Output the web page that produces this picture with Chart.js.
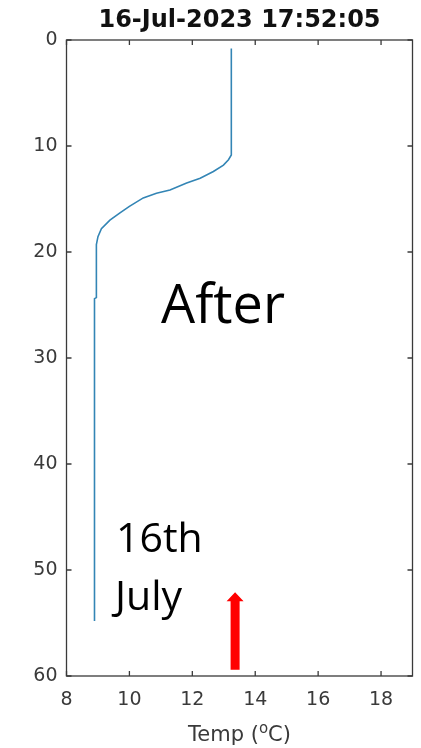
<!DOCTYPE html>
<html>
<head>
<meta charset="utf-8">
<script src="https://cdn.jsdelivr.net/npm/chart.js@4/dist/chart.umd.min.js"></script>
<style>
  html, body { margin: 0; padding: 0; background: #fff; }
  canvas { display: block; }
</style>
</head>
<body>
<canvas id="c" width="421" height="748"></canvas>
<script>
// Temperature profile (depth in m, temperature in °C)
const depth = [0.8, 10.85, 11.3, 11.8, 12.4, 13.05, 13.5, 14.15, 14.46, 14.9, 15.7, 16.3, 17.0, 17.8, 18.55, 19.3, 24.3, 24.4, 54.8];
const temperature = [13.24, 13.24, 13.15, 12.99, 12.67, 12.25, 11.82, 11.29, 10.86, 10.44, 10.0, 9.7, 9.38, 9.11, 9.0, 8.95, 8.95, 8.89, 8.89];

const xTicks = [8, 10, 12, 14, 16, 18];
const yTicks = [0, 10, 20, 30, 40, 50, 60];

const titleText = '16-Jul-2023 17:52:05';
const notes = ['After', '16th', 'July'];

// Red marker arrow: temperature position, from depth to depth
const arrowTemp = [13.36];
const arrowFromDepth = [59.4];
const arrowToDepth = [52.1];

const AXIS_COLOR = '#3a3a3a';
const TICK_FONT = 'DejaVu Sans';

const decorations = {
  id: 'decorations',
  afterDraw(chart) {
    const ctx = chart.ctx;
    const a = chart.chartArea;
    const xs = chart.scales.x, ys = chart.scales.y;
    ctx.save();

    // box around plot
    ctx.strokeStyle = AXIS_COLOR;
    ctx.lineWidth = 1.3;
    ctx.strokeRect(a.left, a.top, a.right - a.left, a.bottom - a.top);

    // inward tick marks on all four sides
    const tl = 5;
    ctx.beginPath();
    xTicks.forEach(v => {
      const px = xs.getPixelForValue(v);
      ctx.moveTo(px, a.bottom); ctx.lineTo(px, a.bottom - tl);
      ctx.moveTo(px, a.top); ctx.lineTo(px, a.top + tl);
    });
    yTicks.forEach(v => {
      const py = ys.getPixelForValue(v);
      ctx.moveTo(a.left, py); ctx.lineTo(a.left + tl, py);
      ctx.moveTo(a.right, py); ctx.lineTo(a.right - tl, py);
    });
    ctx.stroke();

    // title
    ctx.fillStyle = '#111';
    ctx.font = 'bold 24px "DejaVu Sans"';
    ctx.textAlign = 'center';
    ctx.textBaseline = 'alphabetic';
    ctx.fillText(titleText, (a.left + a.right) / 2, 27);

    // x axis title with superscript o
    ctx.fillStyle = AXIS_COLOR;
    ctx.textAlign = 'left';
    const main = '21px "DejaVu Sans"', sup = '15px "DejaVu Sans"';
    const p1 = 'Temp (', p2 = 'o', p3 = 'C)';
    ctx.font = main; const w1 = ctx.measureText(p1).width, w3 = ctx.measureText(p3).width;
    ctx.font = sup; const w2 = ctx.measureText(p2).width;
    let x0 = (a.left + a.right) / 2 - (w1 + w2 + w3) / 2;
    const base = 741;
    ctx.font = main; ctx.fillText(p1, x0, base); x0 += w1;
    ctx.font = sup; ctx.fillText(p2, x0, base - 8); x0 += w2;
    ctx.font = main; ctx.fillText(p3, x0, base);

    // annotations
    ctx.fillStyle = '#000';
    ctx.font = '54px "Open Sans"';
    ctx.fillText(notes[0], 161, 323);
    ctx.font = '41px "Open Sans"';
    ctx.fillText(notes[1], 116, 552);
    ctx.fillText(notes[2], 115, 610);

    // red arrow
    ctx.fillStyle = '#ff0000';
    arrowTemp.forEach((t, i) => {
      const cx = xs.getPixelForValue(t);
      const yb = ys.getPixelForValue(arrowFromDepth[i]);
      const yt = ys.getPixelForValue(arrowToDepth[i]);
      const sw = 4.5, hw = 8.5, hh = 9;
      ctx.beginPath();
      ctx.moveTo(cx - sw, yb);
      ctx.lineTo(cx - sw, yt + hh);
      ctx.lineTo(cx - hw, yt + hh);
      ctx.lineTo(cx, yt);
      ctx.lineTo(cx + hw, yt + hh);
      ctx.lineTo(cx + sw, yt + hh);
      ctx.lineTo(cx + sw, yb);
      ctx.closePath();
      ctx.fill();
    });

    ctx.restore();
  }
};

new Chart(document.getElementById('c'), {
  type: 'scatter',
  data: {
    datasets: [{
      data: depth.map((d, i) => ({ x: temperature[i], y: d })),
      showLine: true,
      borderColor: '#3385b5',
      borderWidth: 1.6,
      pointRadius: 0,
      tension: 0
    }]
  },
  options: {
    responsive: false,
    devicePixelRatio: 1,
    animation: false,
    layout: { padding: { top: 40, right: 8.5, left: 0, bottom: 0 } },
    plugins: { legend: { display: false }, tooltip: { enabled: false }, title: { display: false } },
    scales: {
      x: {
        type: 'linear',
        min: 8, max: 19,
        grid: { display: false, drawTicks: false },
        border: { display: false },
        afterBuildTicks(scale) { scale.ticks = xTicks.map(v => ({ value: v })); },
        afterFit(scale) { scale.height = 72; },
        ticks: { padding: 13, color: AXIS_COLOR, font: { family: TICK_FONT, size: 19 } }
      },
      y: {
        type: 'linear',
        reverse: true,
        min: 0, max: 60,
        grid: { display: false, drawTicks: false },
        border: { display: false },
        afterBuildTicks(scale) { scale.ticks = yTicks.map(v => ({ value: v })); },
        afterFit(scale) { scale.width = 66.5; },
        ticks: { padding: 9, color: AXIS_COLOR, font: { family: TICK_FONT, size: 19 } }
      }
    }
  },
  plugins: [decorations]
});
</script>
</body>
</html>
